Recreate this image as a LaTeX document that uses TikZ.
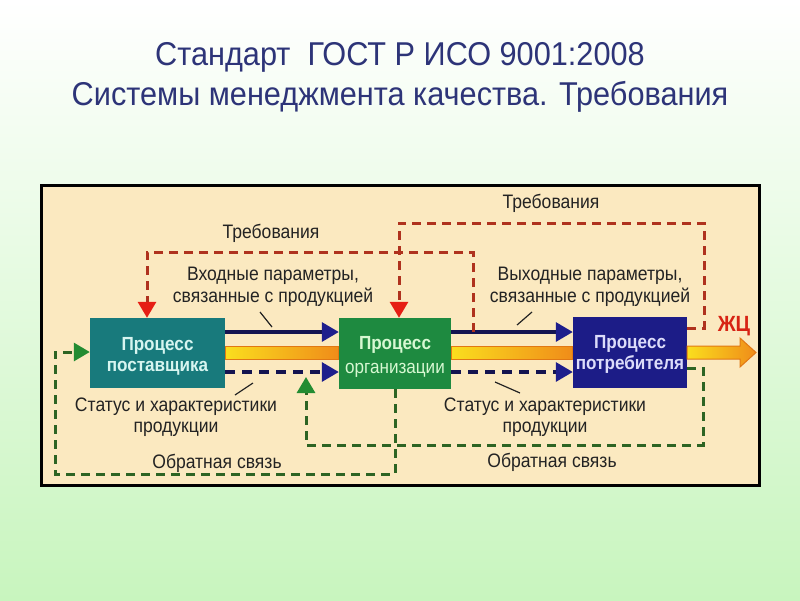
\documentclass[tikz,border=0pt]{standalone}
\usepackage{fontspec}
\setmainfont{Liberation Sans}
\newfontfamily\lab[FakeStretch=0.9]{Liberation Sans}
\newfontfamily\ttl[FakeStretch=0.93]{Liberation Sans}
\usetikzlibrary{arrows.meta,calc}
\definecolor{titleblue}{RGB}{45,52,120}
\definecolor{panel}{RGB}{251,233,192}
\definecolor{supc}{RGB}{24,122,124}
\definecolor{orgc}{RGB}{30,138,64}
\definecolor{conc}{RGB}{28,28,135}
\definecolor{suptxt}{RGB}{215,245,240}
\definecolor{orgtxt}{RGB}{215,248,210}
\definecolor{contxt}{RGB}{220,220,250}
\definecolor{navy}{RGB}{20,20,80}
\definecolor{navytip}{RGB}{30,30,140}
\definecolor{reqline}{RGB}{175,50,30}
\definecolor{reqtip}{RGB}{230,30,20}
\definecolor{fbline}{RGB}{45,100,35}
\definecolor{fbtip}{RGB}{35,140,50}
\definecolor{bandY}{RGB}{250,222,30}
\definecolor{bandO}{RGB}{240,140,25}
\definecolor{bandEdge}{RGB}{225,120,20}
\definecolor{txt}{RGB}{35,35,35}
\definecolor{bgtop}{RGB}{255,255,255}
\definecolor{bgbot}{RGB}{200,245,190}
\definecolor{zhc}{RGB}{215,35,20}
\begin{document}
\begin{tikzpicture}[x=1pt,y=-1pt,
  title/.style={text=titleblue, font=\ttl\fontsize{33}{36}\selectfont, inner sep=0pt},
  procbox/.style={inner sep=0pt},
  proctext/.style={inner sep=0pt, align=center, font=\lab\bfseries\fontsize{19}{21}\selectfont},
  lbl/.style={text=txt, align=center, inner sep=0pt, font=\lab\fontsize{19.5}{21.5}\selectfont},
  navyarrow/.style={draw=navy, line width=3.2pt, -{Triangle[length=17pt,width=19pt,color=navytip]}},
  navydash/.style={navyarrow, dash pattern=on 10pt off 7pt},
  reqloop/.style={draw=reqline, line width=3pt, dash pattern=on 9pt off 6pt, -{Triangle[length=16pt,width=18pt,color=reqtip]}},
  fbloop/.style={draw=fbline, line width=3pt, dash pattern=on 9pt off 6pt, -{Triangle[length=16pt,width=18pt,color=fbtip]}},
  ptr/.style={draw=txt, line width=1.2pt},
  band/.style={left color=bandY, right color=bandO, draw=bandEdge, line width=1pt}
]
\useasboundingbox (0,0) rectangle (800,600);
\shade[top color=bgtop, bottom color=bgbot] (0,0) rectangle (800,600);

% title
\node[title] (t1) at (400,57) {Стандарт\ \ ГОСТ Р ИСО 9001:2008};
\node[title] (t2) at (400,97) {Системы менеджмента качества. Требования};

% panel
\draw[line width=3pt, fill=panel] (41,185) rectangle (759,485);

% process boxes
\node[procbox, fill=supc, minimum width=135pt, minimum height=70pt] (sup) at (157.5,353) {};
\node[procbox, fill=orgc, minimum width=112pt, minimum height=71pt] (org) at (395,353.5) {};
\node[procbox, fill=conc, minimum width=114pt, minimum height=71pt] (con) at (630,352.5) {};
\node[proctext, text=suptxt] (suptext) at ($(sup.center)+(0,3)$) {Процесс\\поставщика};
\node[proctext, text=orgtxt] (orgtext) at ($(org.center)+(0,3)$) {Процесс\\[3pt]{\mdseries организации}};
\node[proctext, text=contxt] (context) at ($(con.center)+(0,2)$) {Процесс\\потребителя};

% helper coordinates
\coordinate (yTop) at (0,332);
\coordinate (yDash) at (0,372);
\coordinate (yB1) at (0,346);
\coordinate (yB2) at (0,359);
\coordinate (yR1) at (0,252);
\coordinate (yR2) at (0,223);
\coordinate (yRc) at (0,328);
\coordinate (xR1) at (473,0);
\coordinate (xR2) at (704,0);
\coordinate (xSupArr) at (147,0);
\coordinate (xOrgArr) at (399,0);
\coordinate (yG1) at (0,474);
\coordinate (yG2) at (0,445);
\coordinate (yGsup) at (0,352);
\coordinate (yGc) at (0,368);
\coordinate (yGtip) at (0,377);
\coordinate (xG1) at (55,0);
\coordinate (xG2) at (703,0);
\coordinate (xG3) at (306,0);
\coordinate (xOrgG) at (395,0);

% yellow-orange bands
\shade[band] (sup.east |- yB1) rectangle (org.west |- yB2);
\shade[band] (org.east |- yB1) rectangle (con.west |- yB2);
\coordinate (zA) at (740,346);
\coordinate (zB) at (740,338);
\coordinate (zT) at (756,352.5);
\coordinate (zC) at (740,367);
\coordinate (zD) at (740,359);
\shade[band] (con.east |- yB1) -- (zA) -- (zB) -- (zT) -- (zC) -- (zD) -- (con.east |- yB2) -- cycle;

% product flow lines
\draw[navyarrow] (sup.east |- yTop) -- (org.west |- yTop);
\draw[navyarrow] (org.east |- yTop) -- (con.west |- yTop);
\draw[navydash] (sup.east |- yDash) -- (org.west |- yDash);
\draw[navydash] (org.east |- yDash) -- (con.west |- yDash);

% requirements loops
\draw[reqloop] (xR1 |- yTop) -- (xR1 |- yR1) -- (xSupArr |- yR1) -- (xSupArr |- sup.north);
\draw[reqloop] (con.east |- yRc) -- (xR2 |- yRc) -- (xR2 |- yR2) -- (xOrgArr |- yR2) -- (xOrgArr |- org.north);

% feedback loops
\draw[fbloop] (xOrgG |- org.south) -- (xOrgG |- yG1) -- (xG1 |- yG1) -- (xG1 |- yGsup) -- (sup.west |- yGsup);
\draw[fbloop] (con.east |- yGc) -- (xG2 |- yGc) -- (xG2 |- yG2) -- (xG3 |- yG2) -- (xG3 |- yGtip);

% labels
\node[lbl] (req1) at (271,233) {Требования};
\node[lbl] (req2) at (551,203) {Требования};
\node[lbl] (in) at (273,287) {Входные параметры,\\связанные с продукцией};
\node[lbl] (out) at (590,287) {Выходные параметры,\\связанные с продукцией};
\node[lbl] (st1) at (176,417) {Статус и характеристики\\продукции};
\node[lbl] (st2) at (545,417) {Статус и характеристики\\продукции};
\node[lbl] (fb1) at (217,463) {Обратная связь};
\node[lbl] (fb2) at (552,462) {Обратная связь};
\node[text=zhc, inner sep=0pt, font=\lab\bfseries\fontsize{22}{24}\selectfont] (zh) at (734,326) {ЖЦ};

% pointer ticks
\coordinate (p1a) at (260,312); \coordinate (p1b) at (272,327);
\coordinate (p2a) at (532,312); \coordinate (p2b) at (517,325);
\coordinate (p3a) at (235,395); \coordinate (p3b) at (253,383);
\coordinate (p4a) at (520,393); \coordinate (p4b) at (495,382);
\draw[ptr] (p1a) -- (p1b);
\draw[ptr] (p2a) -- (p2b);
\draw[ptr] (p3a) -- (p3b);
\draw[ptr] (p4a) -- (p4b);
\end{tikzpicture}
\end{document}
